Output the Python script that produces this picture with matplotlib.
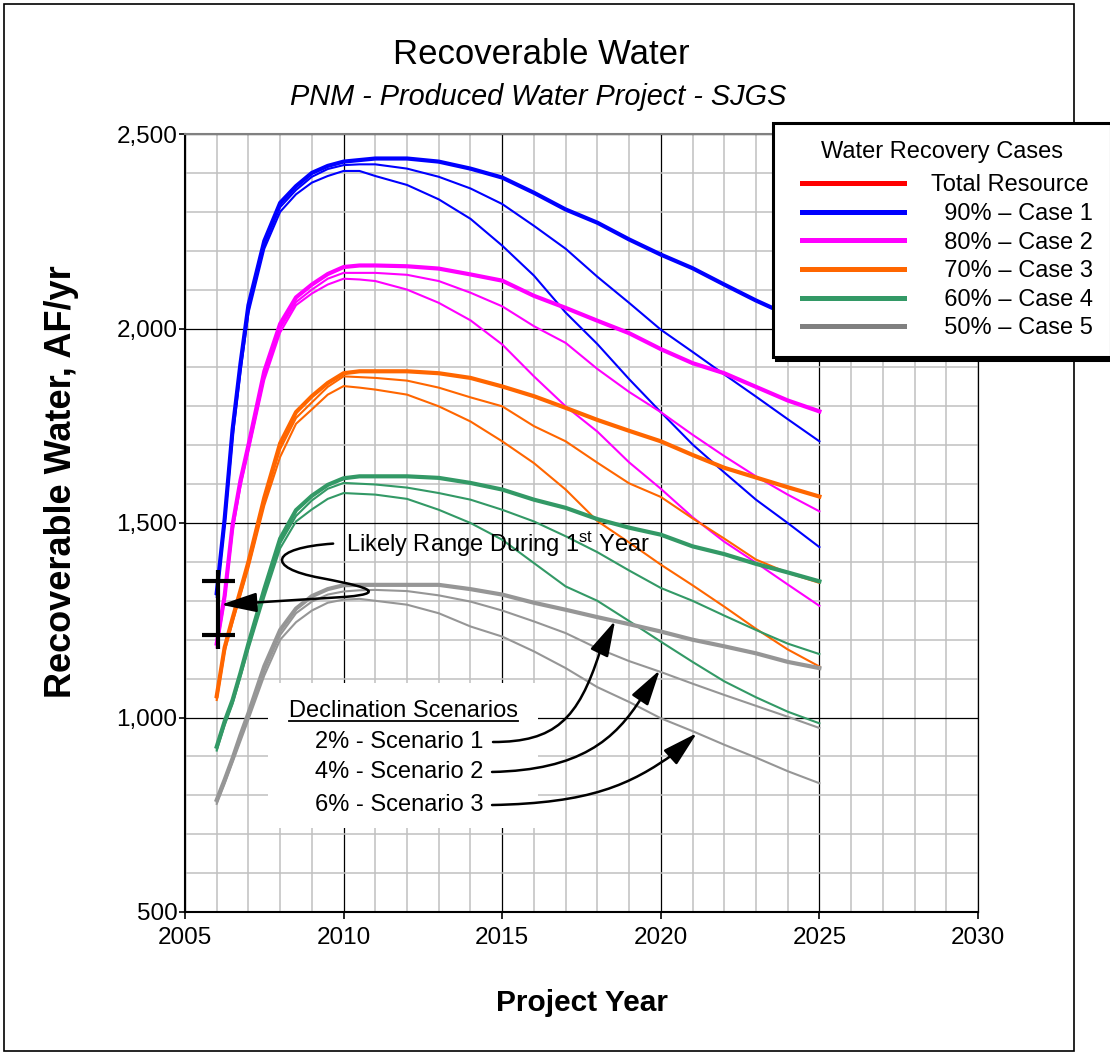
import matplotlib
matplotlib.use("Agg")
import numpy as np
import matplotlib.pyplot as plt
from matplotlib.lines import Line2D
from matplotlib.patches import Rectangle, PathPatch
from matplotlib.path import Path
from matplotlib.legend_handler import HandlerLine2D
from matplotlib.ticker import MultipleLocator, StrMethodFormatter

plt.rcParams['font.family'] = ['Liberation Sans', 'DejaVu Sans']
plt.rcParams['mathtext.default'] = 'regular'

#
#   DATA (AF/yr)
#     s1 = 2% decline, s2 = 4% decline, s3 = 6% decline
#
years = [2006.0, 2006.25, 2006.5, 2006.75, 2007.0, 2007.5, 2008.0, 2008.5,
         2009.0, 2009.5, 2010.0, 2010.5, 2011.0, 2012, 2013, 2014, 2015,
         2016, 2017, 2018, 2019, 2020, 2021, 2022, 2023, 2024, 2025]

case1_s1 = [1320, 1510, 1740, 1910, 2060, 2225, 2323, 2366, 2400, 2418, 2429, 2433, 2437, 2437,
            2429, 2411, 2388, 2349, 2306, 2272, 2229, 2190, 2155, 2113, 2072, 2035, 2000]
case1_s2 = [1315, 1505, 1730, 1900, 2050, 2215, 2312, 2356, 2390, 2410, 2420, 2422, 2422, 2411,
            2390, 2360, 2320, 2264, 2205, 2133, 2066, 1997, 1940, 1882, 1825, 1767, 1710]
case1_s3 = [1310, 1500, 1720, 1890, 2040, 2205, 2300, 2345, 2375, 2392, 2405, 2405, 2392, 2369,
            2332, 2282, 2213, 2136, 2041, 1960, 1870, 1785, 1702, 1630, 1560, 1500, 1438]

case2_s1 = [1190, 1313, 1495, 1610, 1700, 1890, 2012, 2080, 2113, 2140, 2158, 2162, 2162, 2160,
            2154, 2139, 2123, 2084, 2053, 2020, 1988, 1947, 1911, 1885, 1850, 1815, 1787]
case2_s2 = [1185, 1308, 1488, 1602, 1692, 1878, 2000, 2068, 2100, 2128, 2143, 2143, 2143, 2138,
            2122, 2092, 2057, 2006, 1963, 1896, 1837, 1785, 1727, 1672, 1620, 1573, 1530]
case2_s3 = [1180, 1303, 1480, 1595, 1684, 1868, 1990, 2060, 2090, 2113, 2128, 2126, 2122, 2100,
            2066, 2021, 1959, 1877, 1800, 1735, 1656, 1588, 1515, 1452, 1398, 1342, 1287]

case3_s1 = [1055, 1180, 1255, 1327, 1400, 1565, 1705, 1785, 1826, 1860, 1885, 1890, 1890, 1890,
            1885, 1873, 1851, 1826, 1796, 1765, 1737, 1710, 1675, 1642, 1617, 1592, 1568]
case3_s2 = [1050, 1175, 1250, 1322, 1393, 1555, 1690, 1770, 1810, 1850, 1877, 1875, 1873, 1866,
            1848, 1823, 1800, 1749, 1710, 1655, 1602, 1567, 1512, 1460, 1406, 1372, 1346]
case3_s3 = [1045, 1170, 1245, 1315, 1385, 1545, 1670, 1755, 1792, 1830, 1852, 1848, 1843, 1830,
            1800, 1761, 1710, 1654, 1586, 1505, 1450, 1393, 1340, 1285, 1228, 1175, 1131]

case4_s1 = [925, 990, 1045, 1115, 1190, 1330, 1460, 1533, 1570, 1598, 1615, 1620, 1620, 1620,
            1616, 1603, 1586, 1560, 1539, 1510, 1488, 1470, 1440, 1420, 1395, 1373, 1350]
case4_s2 = [920, 985, 1040, 1110, 1183, 1320, 1448, 1518, 1558, 1588, 1603, 1601, 1599, 1591,
            1577, 1560, 1534, 1504, 1466, 1425, 1378, 1333, 1300, 1262, 1225, 1190, 1163]
case4_s3 = [915, 980, 1035, 1105, 1176, 1310, 1435, 1504, 1535, 1562, 1577, 1575, 1573, 1562,
            1534, 1500, 1457, 1397, 1337, 1300, 1248, 1195, 1143, 1093, 1052, 1015, 985]

case5_s1 = [788, 840, 895, 955, 1011, 1132, 1225, 1280, 1312, 1330, 1340, 1341, 1341, 1341,
            1341, 1330, 1316, 1295, 1277, 1258, 1240, 1221, 1200, 1183, 1165, 1143, 1127]
case5_s2 = [783, 835, 890, 948, 1003, 1120, 1212, 1268, 1298, 1316, 1324, 1327, 1328, 1325,
            1314, 1298, 1275, 1247, 1217, 1178, 1145, 1117, 1087, 1058, 1030, 1002, 973]
case5_s3 = [778, 830, 885, 940, 995, 1108, 1200, 1245, 1275, 1295, 1303, 1305, 1300, 1290,
            1268, 1234, 1208, 1170, 1127, 1078, 1040, 998, 965, 930, 897, 862, 831]

legend_labels = ['Total Resource', '  90% \u2013 Case 1', '  80% \u2013 Case 2',
                 '  70% \u2013 Case 3', '  60% \u2013 Case 4', '  50% \u2013 Case 5']
legend_colors = ['#FF0000', '#0000FF', '#FF00FF', '#FF6600', '#339966', '#808080']
scenario_labels = ['2% - Scenario 1', '4% - Scenario 2', '6% - Scenario 3']

# likely first-year range (the black bar)
range_year = 2006.05
range_low, range_high = 1213, 1350

cases = [
    ('#0000FF', case1_s1, case1_s2, case1_s3),
    ('#FF00FF', case2_s1, case2_s2, case2_s3),
    ('#FF6600', case3_s1, case3_s2, case3_s3),
    ('#339966', case4_s1, case4_s2, case4_s3),
    ('#969696', case5_s1, case5_s2, case5_s3),
]

FS = 17


class ShiftedLine(HandlerLine2D):
    # legend sample line starts a bit right of the handle box
    def get_xdata(self, legend, xdescent, ydescent, width, height, fontsize):
        xdata, xm = super().get_xdata(legend, xdescent, ydescent, width, height, fontsize)
        xdata = np.asarray(xdata, dtype=float)
        xdata[0] += 8
        return xdata, xm


fig = plt.figure(figsize=(11.1, 10.55), dpi=100)
ax = fig.add_axes([185 / 1110, 1 - 912 / 1055, 793 / 1110, 778 / 1055])

for color, s1, s2, s3 in cases:
    ax.plot(years, s3, color=color, lw=1.5, zorder=3)
    ax.plot(years, s2, color=color, lw=1.5, zorder=3)
    ax.plot(years, s1, color=color, lw=3.0, zorder=4)

ax.set_xlim(2005, 2030)
ax.set_ylim(500, 2500)
ax.xaxis.set_major_locator(MultipleLocator(5))
ax.xaxis.set_minor_locator(MultipleLocator(1))
ax.yaxis.set_major_locator(MultipleLocator(500))
ax.yaxis.set_minor_locator(MultipleLocator(100))
ax.yaxis.set_major_formatter(StrMethodFormatter('{x:,.0f}'))
ax.grid(which='minor', color='#C0C0C0', lw=1.1, zorder=0)
ax.grid(which='major', color='black', lw=0.9, zorder=0)
ax.set_axisbelow(True)
ax.tick_params(which='major', direction='out', width=1.2, labelsize=17.5)
ax.tick_params(axis='y', length=4, pad=1.5)
ax.tick_params(axis='x', length=5, pad=6)
ax.tick_params(which='minor', length=0)

for side in ['left', 'bottom']:
    ax.spines[side].set_linewidth(1.5)
ax.spines['top'].set_color('#808080')
ax.spines['top'].set_linewidth(1.5)
ax.spines['right'].set_linewidth(0.9)

ax.set_xlabel('Project Year', fontsize=21.5, fontweight='bold')
ax.set_ylabel('Recoverable Water, AF/yr', fontsize=26, fontweight='bold')
ax.xaxis.set_label_coords(0.5, -0.117)
ax.xaxis.label.set_va('center')
ax.yaxis.set_label_coords(-0.156, 0.553)
ax.yaxis.label.set_va('center')

fig.text(541 / 1110, 1 - 55 / 1055, 'Recoverable Water', fontsize=25,
         ha='center', va='center')
fig.text(538 / 1110, 1 - 97 / 1055, 'PNM - Produced Water Project - SJGS', fontsize=20.8,
         style='italic', ha='center', va='center')

# likely range bar
ax.plot([range_year, range_year], [1175, 1380], color='black', lw=3, zorder=6,
        solid_capstyle='butt')
for yv in (range_low, range_high):
    ax.plot([range_year - 0.52, range_year + 0.52], [yv, yv], color='black', lw=3,
            zorder=6, solid_capstyle='butt')

ax.text(2010.08, 1444, r'Likely Range During 1$^{st}$ Year', fontsize=FS,
        ha='left', va='center', zorder=7)


def curved_arrow(verts, tip):
    codes = [Path.MOVETO] + [Path.CURVE4] * (len(verts) - 1)
    ax.add_patch(PathPatch(Path(verts, codes), fill=False, lw=1.8, ec='black',
                           zorder=7, capstyle='round'))
    ax.annotate('', xy=tip, xytext=verts[-1], zorder=7,
                arrowprops=dict(arrowstyle='-|>,head_length=1.1,head_width=0.3',
                                mutation_scale=20, lw=1.8, color='black',
                                shrinkA=0, shrinkB=0))


curved_arrow([(2009.67, 1447), (2007.68, 1436), (2007.52, 1385), (2009.26, 1359),
              (2010.20, 1344), (2011.72, 1321), (2010.04, 1310)], (2006.13, 1290))

# declination scenarios box
ax.add_patch(Rectangle((2007.62, 716), 2016.13 - 2007.62, 1089 - 716, facecolor='white',
                       edgecolor='none', zorder=2))
title_txt = ax.text(2008.28, 1017, 'Declination Scenarios', fontsize=FS, ha='left',
                    va='center', zorder=7)
for lbl, yv in zip(scenario_labels, [937, 861, 775]):
    ax.text(2009.1, yv, lbl, fontsize=FS, ha='left', va='center', zorder=7)

curved_arrow([(2014.71, 937), (2016.66, 937), (2017.39, 994), (2018.08, 1169)],
             (2018.56, 1249))
curved_arrow([(2014.68, 860), (2017.45, 865), (2018.56, 942), (2019.41, 1053)],
             (2019.97, 1122))
curved_arrow([(2014.68, 775), (2017.77, 780), (2019.03, 826), (2020.45, 909)],
             (2021.14, 960))

# legend
handles = [Line2D([], [], color=c, lw=3.6) for c in legend_colors]
leg = ax.legend(handles, legend_labels, title='Water Recovery Cases', fontsize=FS,
                title_fontsize=FS, loc='upper left',
                bbox_to_anchor=(773 / 1110, 1 - 123 / 1055),
                bbox_transform=fig.transFigure, borderaxespad=0, borderpad=0.75,
                handlelength=4.8, handletextpad=1.15, labelspacing=0.28,
                fancybox=False, framealpha=1,
                handler_map={Line2D: ShiftedLine()},
                shadow={'color': 'black', 'alpha': 1})
leg._legend_box.sep = 8.4
leg.get_frame().set_edgecolor('black')
leg.get_frame().set_linewidth(2.2)
leg.set_zorder(10)

# outer border
fig.patches.append(Rectangle((4 / 1110, 4 / 1055), 1070 / 1110, 1047 / 1055,
                             transform=fig.transFigure, fill=False, ec='black',
                             lw=1.2, zorder=-1))

# underline the scenario heading
fig.canvas.draw()
bb = title_txt.get_window_extent()
inv = fig.transFigure.inverted()
(x0, y0), (x1, _) = inv.transform([(bb.x0, bb.y0 + 1), (bb.x1, bb.y0 + 1)])
fig.add_artist(Line2D([x0, x1], [y0, y0], color='black', lw=1.3, transform=fig.transFigure))

fig.savefig('out.png', dpi=100)
